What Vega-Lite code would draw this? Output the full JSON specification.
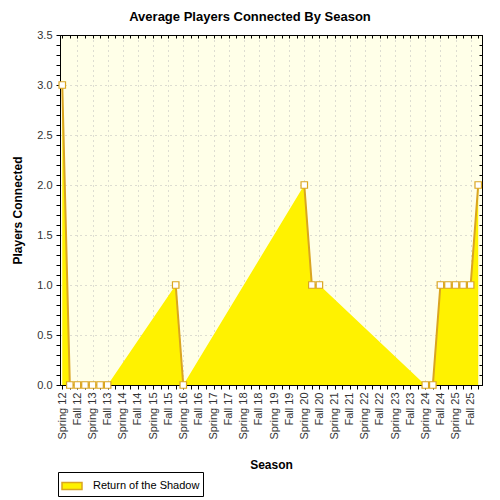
{
  "$schema": "https://vega.github.io/schema/vega-lite/v6.json",
  "description": "Average players connected by season",
  "autosize": {"type": "none"},
  "width": 422,
  "height": 350,
  "padding": {"left": 60, "top": 35, "right": 18, "bottom": 115},
  "background": "white",
  "title": {
    "text": "Average Players Connected By Season",
    "font": "Liberation Sans",
    "fontSize": 13,
    "fontWeight": "bold",
    "color": "black",
    "anchor": "middle",
    "dx": -21,
    "offset": 5
  },
  "config": {
    "view": {"fill": "#FFFFE8", "stroke": "black", "strokeWidth": 1},
    "axis": {
      "labelFont": "Liberation Sans",
      "labelFontSize": 11,
      "labelColor": "#333333",
      "titleFont": "Liberation Sans",
      "titleFontSize": 12,
      "titleFontWeight": "bold",
      "titleColor": "black",
      "domainColor": "black",
      "tickColor": "black",
      "gridColor": "#BBBBBB",
      "gridDash": [1, 4]
    }
  },
  "data": {
    "values": [
      {"x": 0, "y": 3, "seg": 1, "series": "Return of the Shadow"},
      {"x": 0.5, "y": 0, "seg": 1, "series": "Return of the Shadow"},
      {"x": 1, "y": 0, "seg": 1, "series": "Return of the Shadow"},
      {"x": 1.5, "y": 0, "seg": 1, "series": "Return of the Shadow"},
      {"x": 2, "y": 0, "seg": 1, "series": "Return of the Shadow"},
      {"x": 2.5, "y": 0, "seg": 1, "series": "Return of the Shadow"},
      {"x": 3, "y": 0, "seg": 1, "series": "Return of the Shadow"},
      {"x": 7.5, "y": 1, "seg": 2, "series": "Return of the Shadow"},
      {"x": 8, "y": 0, "seg": 2, "series": "Return of the Shadow"},
      {"x": 16, "y": 2, "seg": 3, "series": "Return of the Shadow"},
      {"x": 16.5, "y": 1, "seg": 3, "series": "Return of the Shadow"},
      {"x": 17, "y": 1, "seg": 3, "series": "Return of the Shadow"},
      {"x": 24, "y": 0, "seg": 4, "series": "Return of the Shadow"},
      {"x": 24.5, "y": 0, "seg": 4, "series": "Return of the Shadow"},
      {"x": 25, "y": 1, "seg": 4, "series": "Return of the Shadow"},
      {"x": 25.5, "y": 1, "seg": 4, "series": "Return of the Shadow"},
      {"x": 26, "y": 1, "seg": 4, "series": "Return of the Shadow"},
      {"x": 26.5, "y": 1, "seg": 4, "series": "Return of the Shadow"},
      {"x": 27, "y": 1, "seg": 4, "series": "Return of the Shadow"},
      {"x": 27.5, "y": 2, "seg": 4, "series": "Return of the Shadow"}
    ]
  },
  "layer": [
    {
      "mark": {"type": "area", "opacity": 1},
      "encoding": {
        "x": {
          "field": "x", "type": "quantitative",
          "scale": {"domain": [-0.15, 27.75], "nice": false, "zero": false},
          "axis": {
            "orient": "bottom",
            "title": "Season",
            "titlePadding": 20,
            "values": [0,0.5,1,1.5,2,2.5,3,3.5,4,4.5,5,5.5,6,6.5,7,7.5,8,8.5,9,9.5,10,10.5,11,11.5,12,12.5,13,13.5,14,14.5,15,15.5,16,16.5,17,17.5,18,18.5,19,19.5,20,20.5,21,21.5,22,22.5,23,23.5,24,24.5,25,25.5,26,26.5,27,27.5],
            "labelExpr": "datum.value % 1 !== 0 ? '' : ((datum.value % 2 === 0 ? 'Spring ' : 'Fall ') + (12 + floor(datum.value / 2)))",
            "labelAngle": 270,
            "labelAlign": "right",
            "labelBaseline": "middle",
            "labelPadding": 3,
            "labelOverlap": false,
            "labelFlush": false,
            "tickSize": 4,
            "grid": true,
            "gridOpacity": {"condition": {"test": "datum.value % 1 !== 0 || datum.value === 0", "value": 0}, "value": 1}
          }
        },
        "y": {
          "field": "y", "type": "quantitative",
          "scale": {"domain": [0, 3.5], "nice": false},
          "axis": {
            "orient": "left",
            "title": "Players Connected",
            "titlePadding": 12,
            "values": [0,0.1,0.2,0.3,0.4,0.5,0.6,0.7,0.8,0.9,1,1.1,1.2,1.3,1.4,1.5,1.6,1.7,1.8,1.9,2,2.1,2.2,2.3,2.4,2.5,2.6,2.7,2.8,2.9,3,3.1,3.2,3.3,3.4,3.5],
            "labelExpr": "abs(datum.value * 2 - round(datum.value * 2)) > 0.01 ? '' : format(datum.value, '.1f')",
            "labelPadding": 4,
            "labelFlush": false,
            "tickSize": 4,
            "grid": true,
            "gridOpacity": {"condition": {"test": "abs(datum.value * 2 - round(datum.value * 2)) > 0.01", "value": 0}, "value": 1}
          }
        },
        "fill": {
          "field": "series", "type": "nominal",
          "scale": {"range": ["#FFF200"]},
          "legend": {
            "title": null,
            "orient": "none",
            "legendX": -2,
            "legendY": 437,
            "direction": "horizontal",
            "strokeColor": "black",
            "fillColor": "white",
            "padding": 3,
            "symbolType": "M-1,-0.35H1V0.35H-1Z",
            "symbolSize": 400,
            "symbolStrokeColor": "#DAA520",
            "symbolStrokeWidth": 1.5,
            "symbolOpacity": 1,
            "labelFont": "Liberation Sans",
            "labelFontSize": 11,
            "labelColor": "black",
            "labelOffset": 10
          }
        }
      }
    },
    {
      "mark": {"type": "line", "color": "#DAA520", "strokeWidth": 2},
      "encoding": {
        "x": {
          "field": "x", "type": "quantitative",
          "axis": {
            "orient": "top",
            "title": null,
            "labels": false,
            "grid": false,
            "tickSize": -3,
            "values": [0,0.5,1,1.5,2,2.5,3,3.5,4,4.5,5,5.5,6,6.5,7,7.5,8,8.5,9,9.5,10,10.5,11,11.5,12,12.5,13,13.5,14,14.5,15,15.5,16,16.5,17,17.5,18,18.5,19,19.5,20,20.5,21,21.5,22,22.5,23,23.5,24,24.5,25,25.5,26,26.5,27,27.5]
          }
        },
        "y": {
          "field": "y", "type": "quantitative",
          "axis": {
            "orient": "right",
            "title": null,
            "labels": false,
            "grid": false,
            "tickSize": -3,
            "values": [0,0.1,0.2,0.3,0.4,0.5,0.6,0.7,0.8,0.9,1,1.1,1.2,1.3,1.4,1.5,1.6,1.7,1.8,1.9,2,2.1,2.2,2.3,2.4,2.5,2.6,2.7,2.8,2.9,3,3.1,3.2,3.3,3.4,3.5]
          }
        },
        "detail": {"field": "seg", "type": "nominal"}
      }
    },
    {
      "mark": {"type": "point", "shape": "square", "filled": true, "fill": "#FFFFFF", "stroke": "#DAA520", "strokeWidth": 1.2, "size": 42, "opacity": 1},
      "encoding": {
        "x": {"field": "x", "type": "quantitative", "axis": null},
        "y": {"field": "y", "type": "quantitative", "axis": null}
      }
    }
  ],
  "resolve": {"axis": {"x": "independent", "y": "independent"}}
}
